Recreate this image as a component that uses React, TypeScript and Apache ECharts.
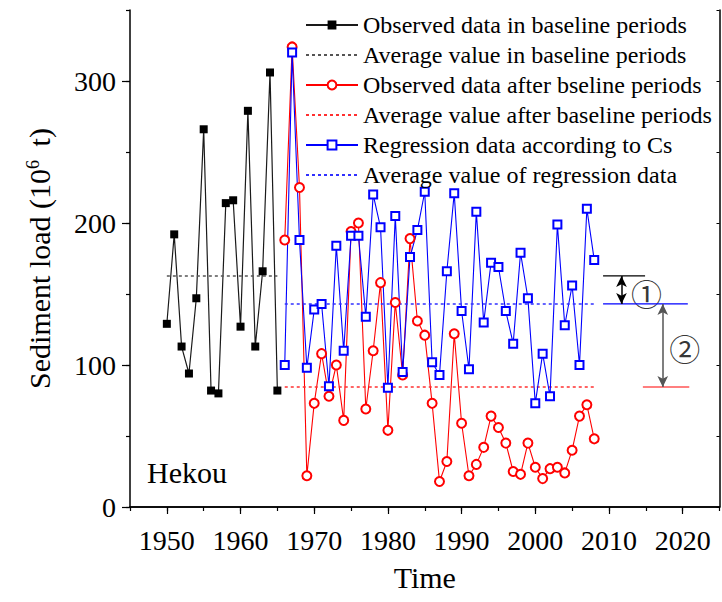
import React, { useEffect, useRef } from 'react';
import * as echarts from 'echarts';

const FONT = '"Liberation Serif", "Times New Roman", serif';

const baselineYears = [1950, 1951, 1952, 1953, 1954, 1955, 1956, 1957, 1958, 1959, 1960, 1961, 1962, 1963, 1964, 1965];
const baselineLoad = [129, 192, 113, 94, 147, 266, 82, 80, 214, 216, 127, 279, 113, 166, 306, 82];

const postYears = [
  1966, 1967, 1968, 1969, 1970, 1971, 1972, 1973, 1974, 1975, 1976, 1977, 1978, 1979, 1980,
  1981, 1982, 1983, 1984, 1985, 1986, 1987, 1988, 1989, 1990, 1991, 1992, 1993, 1994, 1995,
  1996, 1997, 1998, 1999, 2000, 2001, 2002, 2003, 2004, 2005, 2006, 2007, 2008,
];
const observedAfter = [
  188, 324, 225, 22, 73, 108, 78, 100, 61, 194, 200, 69, 110, 158, 54,
  144, 93, 189, 131, 121, 73, 18, 32, 122, 59, 22, 30, 42, 64, 56,
  45, 25, 23, 45, 28, 20, 27, 28, 24, 40, 64, 72, 48,
];
const regression = [
  100, 320, 188, 98, 139, 143, 85, 184, 110, 191, 191, 134, 220, 197, 84,
  205, 95, 176, 195, 222, 102, 93, 166, 221, 138, 97, 208, 130, 172, 169,
  138, 115, 179, 147, 73, 108, 78, 199, 128, 156, 100, 210, 174,
];

const baselineMean = 162.7;
const afterMean = 84.5;
const regressionMean = 143;

const xTickLabels = [1950, 1960, 1970, 1980, 1990, 2000, 2010, 2020];
const yTickLabels = [0, 100, 200, 300];

const seriesNames = [
  'Observed data in baseline periods',
  'Average value in baseline periods',
  'Observed data after bseline periods',
  'Average value after baseline periods',
  'Regression data according to Cs',
  'Average value of regression data',
];

// annotation guide lines (year ranges) on the right
const annBaselineYears = [2009.2, 2014.9];
const annRegressionYears = [2009.2, 2020.7];
const annAfterYears = [2014.6, 2020.9];
const arrow1Year = 2011.7;
const arrow2Year = 2017.3;
const label1 = { text: '①', year: 2015.1, value: 151.4 };
const label2 = { text: '②', year: 2020.3, value: 112 };

const pair = (xs: number[], ys: number[]) => xs.map((x, i) => [x, ys[i]]);

export default function App() {
  const ref = useRef<HTMLDivElement>(null);
  useEffect(() => {
    document.body.style.margin = '0';
    const chart = echarts.init(ref.current!, null, { renderer: 'svg' });
    const grid = { left: 130, right: 2.5, top: 10, bottom: 95 };
    const axisLineStyle = { color: '#000', width: 1.5 };
    const hiddenSymbol = { color: 'rgba(0,0,0,0)', borderColor: 'rgba(0,0,0,0)', borderWidth: 0, opacity: 0 };
    const option: any = {
      animation: false,
      backgroundColor: '#fff',
      grid: [grid, { ...grid }],
      legend: {
        data: seriesNames.map((n, i) => (i % 2 === 1 ? { name: n, itemStyle: hiddenSymbol } : { name: n })),
        orient: 'vertical',
        left: 300,
        top: 8,
        itemWidth: 52,
        itemHeight: 11,
        itemGap: 6,
        selectedMode: false,
        textStyle: { fontFamily: FONT, fontSize: 24, color: '#000', lineHeight: 24 },
      },
      xAxis: [
        {
          type: 'value', gridIndex: 0, min: 1945, max: 2025, interval: 5, position: 'bottom',
          axisLine: { lineStyle: axisLineStyle },
          axisTick: { show: true, customValues: xTickLabels, length: 7, lineStyle: { color: '#000', width: 1.2 } },
          axisLabel: {
            customValues: xTickLabels, formatter: (v: number) => String(v),
            fontFamily: FONT, fontSize: 28, color: '#000', margin: 19,
          },
          splitLine: { show: false },
          name: 'Time', nameLocation: 'middle', nameGap: 55,
          nameTextStyle: { fontFamily: FONT, fontSize: 30, color: '#000' },
        },
        {
          type: 'value', gridIndex: 0, min: 1945, max: 2025, interval: 5, position: 'top',
          axisLine: { lineStyle: axisLineStyle },
          axisTick: { show: true, inside: true, length: 3, lineStyle: { color: '#000', width: 1 } },
          axisLabel: { show: false }, splitLine: { show: false },
        },
        {
          type: 'value', gridIndex: 1, min: 1945, max: 2025, interval: 5, position: 'bottom',
          axisLine: { show: false },
          axisTick: { show: true, length: 4, lineStyle: { color: '#000', width: 1.2 } },
          axisLabel: { show: false }, splitLine: { show: false },
        },
      ],
      yAxis: [
        {
          type: 'value', gridIndex: 0, min: 0, max: 350, interval: 50, position: 'left',
          axisLine: { show: true, lineStyle: axisLineStyle },
          axisTick: { show: true, customValues: yTickLabels, length: 8, lineStyle: { color: '#000', width: 1.2 } },
          axisLabel: { customValues: yTickLabels, fontFamily: FONT, fontSize: 28, color: '#000', margin: 14 },
          splitLine: { show: false },
          name: 'Sediment load (10{sup|6} t)', nameLocation: 'middle', nameGap: 76, nameRotate: 90,
          nameTextStyle: {
            fontFamily: FONT, fontSize: 30, color: '#000',
            rich: { sup: { fontFamily: FONT, fontSize: 18, color: '#000', verticalAlign: 'top', padding: [0, 6, 10, 0] } },
          },
        },
        {
          type: 'value', gridIndex: 0, min: 0, max: 350, interval: 50, position: 'right',
          axisLine: { show: true, lineStyle: axisLineStyle },
          axisTick: { show: true, inside: true, length: 3, lineStyle: { color: '#000', width: 1 } },
          axisLabel: { show: false }, splitLine: { show: false },
        },
        {
          type: 'value', gridIndex: 1, min: 0, max: 350, interval: 50, position: 'left',
          axisLine: { show: false },
          axisTick: { show: true, length: 4, lineStyle: { color: '#000', width: 1.2 } },
          axisLabel: { show: false }, splitLine: { show: false },
        },
      ],
      series: [
        {
          name: seriesNames[0], type: 'line', data: pair(baselineYears, baselineLoad),
          symbol: 'rect', symbolSize: 8, itemStyle: { color: '#000' },
          lineStyle: { color: '#1a1a1a', width: 1.2 },
        },
        {
          name: seriesNames[1], type: 'line', symbol: 'none',
          data: [[baselineYears[0], baselineMean], [baselineYears[baselineYears.length - 1], baselineMean]],
          itemStyle: { color: '#555' }, lineStyle: { color: '#555', width: 1.5, type: [3, 3] },
        },
        {
          name: seriesNames[2], type: 'line', data: pair(postYears, observedAfter),
          symbol: 'emptyCircle', symbolSize: 9, itemStyle: { color: '#ff0000', borderWidth: 1.2 },
          lineStyle: { color: '#ff0000', width: 1.1 },
        },
        {
          name: seriesNames[3], type: 'line', symbol: 'none',
          data: [[postYears[0], afterMean], [postYears[postYears.length - 1], afterMean]],
          itemStyle: { color: '#ff3030' }, lineStyle: { color: '#ff3030', width: 1.5, type: [3, 3] },
        },
        {
          name: seriesNames[4], type: 'line', data: pair(postYears, regression),
          symbol: 'emptyRect', symbolSize: 8, itemStyle: { color: '#0000ff', borderWidth: 1.2 },
          lineStyle: { color: '#0000ff', width: 1.1 },
        },
        {
          name: seriesNames[5], type: 'line', symbol: 'none',
          data: [[postYears[0], regressionMean], [postYears[postYears.length - 1], regressionMean]],
          itemStyle: { color: '#3030ff' }, lineStyle: { color: '#3030ff', width: 1.5, type: [3, 3] },
        },
        {
          name: 'annBaseline', type: 'line', symbol: 'none',
          data: annBaselineYears.map((y) => [y, baselineMean]),
          lineStyle: { color: '#000', width: 1.2 },
        },
        {
          name: 'annRegression', type: 'line', symbol: 'none',
          data: annRegressionYears.map((y) => [y, regressionMean]),
          lineStyle: { color: '#0000ff', width: 1.2 },
        },
        {
          name: 'annAfter', type: 'line', symbol: 'none',
          data: annAfterYears.map((y) => [y, afterMean]),
          lineStyle: { color: '#ff0000', width: 1.2 },
        },
        {
          name: 'arrows', type: 'line', symbol: 'none', data: [[arrow1Year, baselineMean]],
          lineStyle: { width: 0 },
          markLine: {
            silent: true, animation: false,
            symbol: ['arrow', 'arrow'], symbolSize: [8, 11],
            label: { show: false },
            data: [
              [
                { coord: [arrow1Year, baselineMean], lineStyle: { color: '#000', width: 1.5, type: 'solid' } },
                { coord: [arrow1Year, regressionMean], lineStyle: { color: '#000', width: 1.5, type: 'solid' } },
              ],
              [
                { coord: [arrow2Year, regressionMean], lineStyle: { color: '#555', width: 1.5, type: 'solid' } },
                { coord: [arrow2Year, afterMean], lineStyle: { color: '#555', width: 1.5, type: 'solid' } },
              ],
            ],
          },
        },
        {
          name: 'labels', type: 'scatter', symbol: 'circle', symbolSize: 1,
          itemStyle: { color: 'rgba(0,0,0,0)' },
          data: [label1, label2].map((l) => ({ value: [l.year, l.value], name: l.text })),
          label: {
            show: true, position: 'inside', formatter: '{b}',
            fontFamily: '"Noto Sans CJK SC", "DejaVu Sans", sans-serif', fontSize: 31, color: '#000',
          },
        },
      ],
      graphic: [
        {
          type: 'text', left: 147, top: 457,
          style: { text: 'Hekou', font: `30px ${FONT}`, fill: '#000' },
        },
      ],
    };
    chart.setOption(option);
    return () => chart.dispose();
  }, []);
  return <div ref={ref} style={{ width: 722, height: 602 }} />;
}
